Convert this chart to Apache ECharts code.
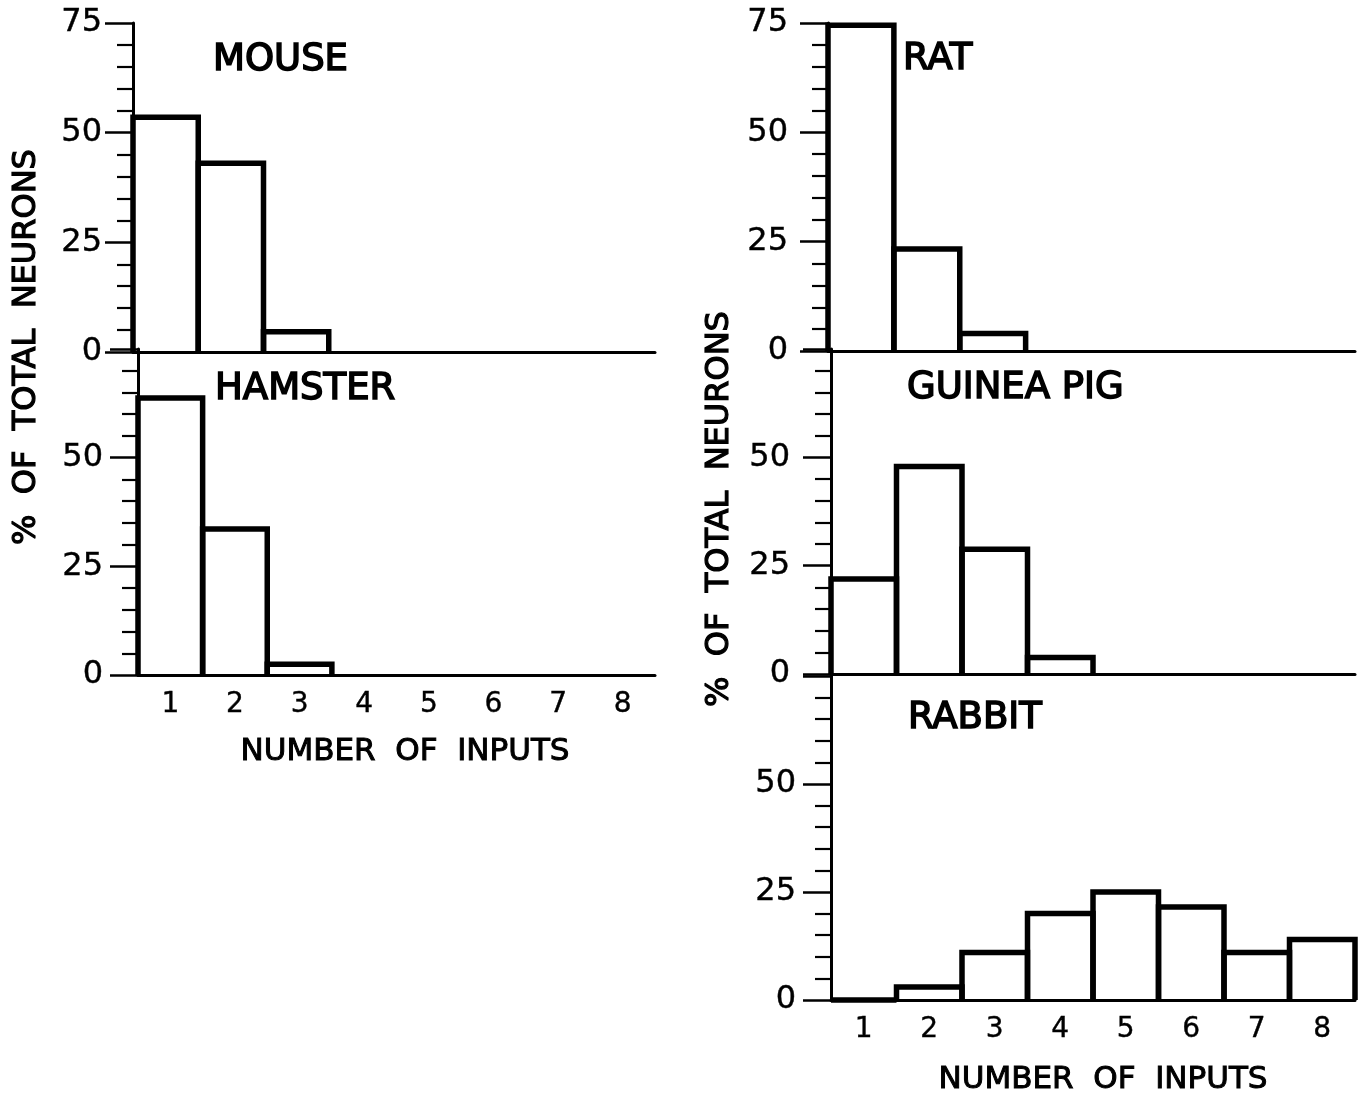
<!DOCTYPE html>
<html>
<head>
<meta charset="utf-8">
<script src="https://cdn.jsdelivr.net/npm/echarts@6/dist/echarts.min.js"></script>
<style>
html,body{margin:0;padding:0;background:#fff;}
#chart{width:1361px;height:1095px;}
</style>
</head>
<body>
<div id="chart"></div>
<script>
// ---- data ----
const categories = ['1', '2', '3', '4', '5', '6', '7', '8'];
const mouse = [53.5, 43, 4.6];
const hamster = [63.7, 33.6, 2.5];
const rat = [74.5, 23.3, 4];
const guineaPig = [21.9, 47.9, 28.8, 3.8];
const rabbit = [0, 3, 11, 20, 25, 21.5, 11, 14];
const yMax = 75;
const yInterval = 25;
const titles = ['MOUSE', 'HAMSTER', 'RAT', 'GUINEA PIG', 'RABBIT'];
const yTitle = '%  OF  TOTAL  NEURONS';
const xTitle = 'NUMBER  OF  INPUTS';

const FONT = 'DejaVu Sans';

const panels = [
  { data: mouse,     grid: { left: 133, top: 23,  width: 522, height: 329 }, margin: 31, showX: false, show75: true },
  { data: hamster,   grid: { left: 138, top: 349, width: 517, height: 326 }, margin: 35, showX: true,  show75: false },
  { data: rat,       grid: { left: 828, top: 23,  width: 527, height: 328 }, margin: 40, showX: false, show75: true },
  { data: guineaPig, grid: { left: 831, top: 349, width: 524, height: 325 }, margin: 41, showX: false, show75: false },
  { data: rabbit,    grid: { left: 831, top: 676, width: 524, height: 324 }, margin: 35, showX: true,  show75: false }
];

function renderItem(params, api) {
  const i = api.value(0), v = api.value(1);
  const w = api.size([1, 0])[0];
  const base = api.coord([i, 0]);
  const top = api.coord([i, v]);
  const x0 = base[0] - w / 2, x1 = base[0] + w / 2;
  return {
    type: 'polyline',
    shape: { points: [[x0, base[1]], [x0, top[1]], [x1, top[1]], [x1, base[1]]] },
    style: { stroke: '#000', lineWidth: 5.5, fill: null, lineJoin: 'miter' }
  };
}

const grids = [], xAxes = [], yAxes = [], series = [];
panels.forEach((p, k) => {
  grids.push(Object.assign({ outerBoundsMode: 'none', containLabel: false }, p.grid));
  xAxes.push({
    type: 'category', gridIndex: k, data: categories, boundaryGap: true,
    axisLine: { show: true, lineStyle: { color: '#000', width: 3 } },
    axisTick: { show: false },
    axisLabel: { show: p.showX, color: '#000', fontFamily: FONT, fontSize: 28, margin: 16,
      textBorderColor: '#000', textBorderWidth: 0.4 },
    splitLine: { show: false }
  });
  yAxes.push({
    type: 'value', gridIndex: k, min: 0, max: yMax, interval: yInterval,
    axisLine: { show: true, lineStyle: { color: '#000', width: 3 } },
    axisTick: { show: true, length: 28, lineStyle: { color: '#000', width: 2.5 } },
    minorTick: { show: true, splitNumber: 5, length: 16, lineStyle: { color: '#000', width: 2.2 } },
    splitLine: { show: false },
    minorSplitLine: { show: false },
    axisLabel: {
      color: '#000', fontFamily: FONT, fontSize: 32, margin: p.margin,
      textBorderColor: '#000', textBorderWidth: 0.4,
      formatter: (v) => (v === yMax && !p.show75) ? '' : String(v)
    }
  });
  series.push({
    type: 'custom', xAxisIndex: k, yAxisIndex: k, renderItem: renderItem,
    data: p.data.map((v, i) => [i, v]), silent: true
  });
});

const titleStyle = { fill: '#000', font: '37px "DejaVu Sans"', stroke: '#000', lineWidth: 1.6, verticalAlign: 'middle', align: 'left' };
const titlePos = [[213, 60], [215, 389], [903, 59], [907, 388], [908, 718]];

const graphics = titles.map((t, k) => ({
  type: 'text', x: titlePos[k][0], y: titlePos[k][1],
  style: Object.assign({ text: t }, titleStyle)
}));
const yTitleStyle = { text: yTitle, fill: '#000', font: '32px "DejaVu Sans"', stroke: '#000', lineWidth: 1.2, align: 'center', verticalAlign: 'middle' };
const xTitleStyle = { text: xTitle, fill: '#000', font: '31px "DejaVu Sans"', stroke: '#000', lineWidth: 1.0, align: 'center', verticalAlign: 'middle' };
graphics.push(
  { type: 'text', x: 27, y: 347, rotation: Math.PI / 2, style: Object.assign({}, yTitleStyle) },
  { type: 'text', x: 720, y: 509, rotation: Math.PI / 2, style: Object.assign({}, yTitleStyle) },
  { type: 'text', x: 405, y: 752, style: Object.assign({}, xTitleStyle) },
  { type: 'text', x: 1103, y: 1080, style: Object.assign({}, xTitleStyle) }
);

const chart = echarts.init(document.getElementById('chart'), null, { renderer: 'canvas' });
chart.setOption({
  backgroundColor: '#fff',
  animation: false,
  grid: grids,
  xAxis: xAxes,
  yAxis: yAxes,
  series: series,
  graphic: graphics
});
</script>
</body>
</html>
